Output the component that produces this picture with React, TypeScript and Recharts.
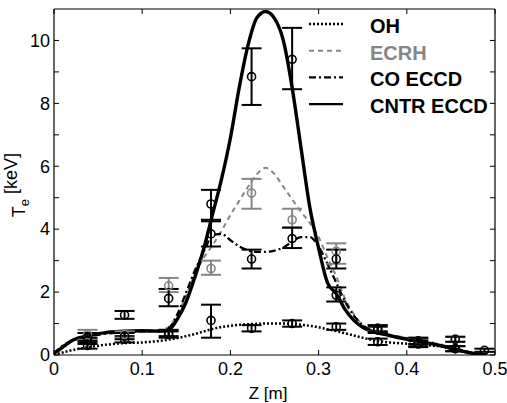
import { ComposedChart, Line, Scatter, ErrorBar, XAxis, YAxis } from "recharts"

// axis ticks
const zTicks = [0, 0.1, 0.2, 0.3, 0.4, 0.5]
const tTicks = [0, 1, 2, 3, 4, 5, 6, 7, 8, 9, 10]
const tTickLabels = ["0", "", "2", "", "4", "", "6", "", "8", "", "10"]

// model curves, sampled on a shared z grid
const zCurve = [
  0, 0.01, 0.02, 0.04, 0.06, 0.08, 0.1, 0.12, 0.13, 0.14, 0.15, 0.16, 0.17, 0.18, 0.19, 0.2, 0.21, 0.22, 0.23, 0.24,
  0.25, 0.26, 0.27, 0.28, 0.29, 0.3, 0.31, 0.32, 0.33, 0.34, 0.35, 0.36, 0.38, 0.4, 0.42, 0.44, 0.46, 0.47, 0.48, 0.49,
]
const ohCurve = [
  0, 0.08, 0.15, 0.25, 0.33, 0.38, 0.4, 0.45, 0.49, 0.54, 0.6, 0.67, 0.75, 0.83, 0.89, 0.93, 0.96, 0.98, 0.99, 1.0,
  1.0, 1.0, 0.99, 0.96, 0.93, 0.88, 0.82, 0.76, 0.69, 0.62, 0.55, 0.48, 0.4, 0.36, 0.32, 0.26, 0.14, 0.07, 0.02, 0,
]
const ecrhCurve = [
  0.05, 0.3, 0.45, 0.6, 0.68, 0.73, 0.76, 0.8, 0.9, 1.3, 1.9, 2.6, 3.1, 3.5, 3.95, 4.45, 4.9, 5.35, 5.75, 5.95,
  5.75, 5.35, 4.95, 4.55, 4.2, 3.75, 3.1, 2.5, 1.8, 1.3, 0.95, 0.78, 0.65, 0.55, 0.45, 0.33, 0.18, 0.1, 0.03, 0,
]
const coCurve = [
  0.05, 0.3, 0.45, 0.6, 0.68, 0.72, 0.75, 0.76, 0.85, 1.3, 2.0, 2.7, 3.3, 3.8, 3.85, 3.65, 3.45, 3.33, 3.28, 3.28,
  3.32, 3.42, 3.6, 3.75, 3.75, 3.45, 2.9, 2.3, 1.7, 1.25, 0.95, 0.78, 0.63, 0.52, 0.42, 0.3, 0.16, 0.09, 0.03, 0,
]
const cntrCurve = [
  0.05, 0.25, 0.45, 0.62, 0.72, 0.76, 0.77, 0.76, 0.8, 1.15, 1.7, 2.5, 3.4, 4.5, 5.6, 6.9, 8.5, 9.85, 10.72, 10.92,
  10.7, 10.0, 8.5, 6.6, 4.7, 3.4, 2.3, 1.95, 1.45, 1.1, 0.88, 0.76, 0.62, 0.5, 0.4, 0.28, 0.14, 0.08, 0.03, 0,
]

// measured points with error bars
const zPoints = [0.038, 0.08, 0.13, 0.178, 0.224, 0.27, 0.32, 0.367, 0.413, 0.455]
const ohPts = [0.3, 0.5, 0.65, 1.1, 0.85, 1.0, 0.9, 0.42, 0.4, 0.2]
const ohLow = [0.2, 0.4, 0.55, 0.55, 0.75, 0.9, 0.8, 0.32, 0.28, 0.12]
const ohHigh = [0.4, 0.6, 0.75, 1.6, 0.95, 1.1, 1.0, 0.52, 0.52, 0.28]
const ecrhPts = [0.65, 0.65, 2.2, 2.75, 5.15, 4.3, 3.3, 0.85, 0.45, 0.5]
const ecrhLow = [0.5, 0.55, 2.0, 2.55, 4.65, 4.05, 2.9, 0.75, 0.35, 0.42]
const ecrhHigh = [0.8, 0.75, 2.45, 3.0, 5.6, 4.65, 3.55, 0.95, 0.55, 0.58]
const coPts = [0.55, 0.6, 1.8, 3.85, 3.05, 3.7, 3.05, 0.8, 0.35, 0.2]
const coLow = [0.45, 0.5, 1.55, 3.45, 2.75, 3.4, 2.75, 0.7, 0.25, 0.12]
const coHigh = [0.7, 0.7, 2.1, 4.25, 3.35, 4.05, 3.35, 0.9, 0.45, 0.28]
const cntrPts = [0.45, 1.27, 0.7, 4.8, 8.85, 9.4, 1.9, 0.85, 0.45, 0.5]
const cntrLow = [0.35, 1.15, 0.6, 4.3, 7.95, 8.45, 1.7, 0.75, 0.35, 0.42]
const cntrHigh = [0.55, 1.4, 0.8, 5.25, 9.75, 10.4, 2.15, 0.95, 0.55, 0.58]
const edgeZ = [0.488]
const edgePts = [0.15]
const edgeLow = [0.1]
const edgeHigh = [0.2]

const legendNames = ["OH", "ECRH", "CO ECCD", "CNTR ECCD"]

const FONT = "'Liberation Sans', Arial, sans-serif"
const GRAY = "#858585"

const curve = (vals: number[]) => zCurve.map((z, i) => ({ z, t: vals[i] }))
const points = (zs: number[], vals: number[], low: number[], high: number[]) =>
  zs.map((z, i) => ({ z, t: vals[i], err: [vals[i] - low[i], high[i] - vals[i]] }))

const styles = [
  { color: "#000", dash: "2 2", width: 2.5 },
  { color: GRAY, dash: "5 4", width: 2 },
  { color: "#000", dash: "7 3 2 3", width: 2.3 },
  { color: "#000", dash: undefined, width: 3.4 },
]

function BottomTick({ x, y, payload }: any) {
  return (
    <g>
      <line x1={x} y1={y} x2={x} y2={y - 5} stroke="#000" />
      <text x={x} y={y + 20} textAnchor="middle" fontSize={18} fontFamily={FONT} fill="#000">
        {payload.value}
      </text>
    </g>
  )
}

function LeftTick({ x, y, index }: any) {
  return (
    <g>
      <line x1={x} y1={y} x2={x + 5} y2={y} stroke="#000" />
      <text x={x - 4} y={y} dy="0.35em" textAnchor="end" fontSize={18} fontFamily={FONT} fill="#000">
        {tTickLabels[index]}
      </text>
    </g>
  )
}

function TopTick({ x, y }: any) {
  return <line x1={x} y1={y} x2={x} y2={y + 5} stroke="#000" />
}

function RightTick({ x, y }: any) {
  return <line x1={x} y1={y} x2={x - 5} y2={y} stroke="#000" />
}

function XLabel() {
  return (
    <text x={268} y={399} textAnchor="middle" fontSize={17} fontFamily={FONT} fill="#000">
      Z [m]
    </text>
  )
}

function YLabel() {
  return (
    <text transform="rotate(-90 25 185)" x={25} y={185} textAnchor="middle" fontSize={18} fontFamily={FONT} fill="#000">
      <tspan>T</tspan>
      <tspan fontSize={13} dy={4}>e</tspan>
      <tspan dy={-12}> [keV]</tspan>
    </text>
  )
}

function Circle(color: string) {
  return (p: any) => <circle cx={p.cx} cy={p.cy} r={4} fill="none" stroke={color} strokeWidth={1.6} />
}

export default function App() {
  const curves = [ohCurve, ecrhCurve, coCurve, cntrCurve]
  const pointSets = [
    points(zPoints, ohPts, ohLow, ohHigh).concat(points(edgeZ, edgePts, edgeLow, edgeHigh)),
    points(zPoints, ecrhPts, ecrhLow, ecrhHigh),
    points(zPoints, coPts, coLow, coHigh),
    points(zPoints, cntrPts, cntrLow, cntrHigh),
  ]

  return (
    <div style={{ position: "absolute", left: 0, top: 0, width: 507, height: 403, background: "#fff", fontFamily: FONT }}>
      <ComposedChart width={507} height={403} margin={{ top: 8, right: 11, bottom: 0, left: 0 }}>
        <XAxis
          dataKey="z"
          type="number"
          domain={[0, 0.5]}
          ticks={zTicks}
          interval={0}
          allowDataOverflow
          height={48}
          tickSize={0}
          tickMargin={0}
          tickLine={false}
          tick={<BottomTick />}
          axisLine={{ stroke: "#000", strokeWidth: 1.2 }}
          label={<XLabel />}
        />
        <XAxis
          xAxisId="top"
          orientation="top"
          dataKey="z"
          type="number"
          domain={[0, 0.5]}
          ticks={zTicks}
          interval={0}
          allowDataOverflow
          height={1}
          tickSize={0}
          tickMargin={0}
          tickLine={false}
          tick={<TopTick />}
          axisLine={{ stroke: "#000", strokeWidth: 1.2 }}
        />
        <YAxis
          dataKey="t"
          type="number"
          domain={[0, 11]}
          ticks={tTicks}
          interval={0}
          allowDataOverflow
          width={54}
          tickSize={0}
          tickMargin={0}
          tickLine={false}
          tick={<LeftTick />}
          axisLine={{ stroke: "#000", strokeWidth: 1.2 }}
          label={<YLabel />}
        />
        <YAxis
          yAxisId="right"
          orientation="right"
          dataKey="t"
          type="number"
          domain={[0, 11]}
          ticks={tTicks}
          interval={0}
          allowDataOverflow
          width={1}
          tickSize={0}
          tickMargin={0}
          tickLine={false}
          tick={<RightTick />}
          axisLine={{ stroke: "#000", strokeWidth: 1.2 }}
        />

        {curves.map((vals, i) => (
          <Line
            key={legendNames[i]}
            data={curve(vals)}
            dataKey="t"
            type="monotone"
            stroke={styles[i].color}
            strokeWidth={styles[i].width}
            strokeDasharray={styles[i].dash}
            dot={false}
            activeDot={false}
            isAnimationActive={false}
          />
        ))}

        {pointSets.map((rows, i) => (
          <Scatter
            key={"pts" + legendNames[i]}
            data={rows}
            dataKey="t"
            shape={Circle(styles[i].color)}
            isAnimationActive={false}
          >
            <ErrorBar dataKey="err" direction="y" width={10} stroke={styles[i].color} strokeWidth={2} />
          </Scatter>
        ))}
      </ComposedChart>

      <svg width={507} height={403} style={{ position: "absolute", left: 0, top: 0, pointerEvents: "none" }}>
        {legendNames.map((name, i) => {
          const base = 33 + i * 26.7
          return (
            <g key={name}>
              <line
                x1={309}
                x2={343}
                y1={base - 9}
                y2={base - 9}
                stroke={styles[i].color}
                strokeWidth={Math.min(styles[i].width, 2.4)}
                strokeDasharray={styles[i].dash}
              />
              <text x={370} y={base} fontSize={20} fontWeight="bold" fontFamily={FONT} fill={i === 1 ? GRAY : "#000"}>
                {name}
              </text>
            </g>
          )
        })}
      </svg>
    </div>
  )
}
